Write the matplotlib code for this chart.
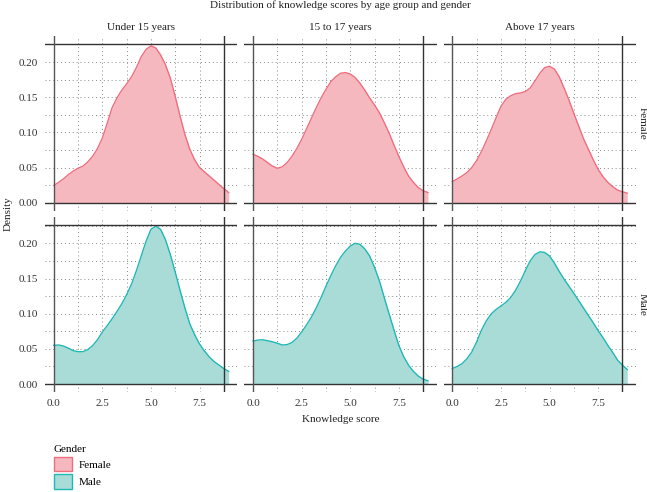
import numpy as np
import matplotlib.pyplot as plt
from matplotlib.patches import Patch
from matplotlib.ticker import MultipleLocator

plt.rcParams['font.family'] = ['Liberation Serif', 'DejaVu Serif']
plt.rcParams['font.size'] = 8

score = np.arange(0, 9.01, 0.25)
age_groups = ['Under 15 years', '15 to 17 years', 'Above 17 years']
genders = ['Female', 'Male']

female_u15 = [0.0245, 0.029, 0.034, 0.040, 0.045, 0.049, 0.052, 0.058, 0.066, 0.077,
              0.092, 0.113, 0.135, 0.149, 0.160, 0.169, 0.179, 0.192, 0.2075, 0.218,
              0.223, 0.220, 0.210, 0.196, 0.177, 0.151, 0.123, 0.097, 0.076, 0.061,
              0.050, 0.044, 0.038, 0.032, 0.026, 0.020, 0.0146]
female_15_17 = [0.0687, 0.066, 0.062, 0.057, 0.052, 0.049, 0.051, 0.057, 0.066, 0.077,
                0.090, 0.105, 0.120, 0.135, 0.149, 0.161, 0.172, 0.179, 0.184, 0.185,
                0.183, 0.178, 0.170, 0.160, 0.149, 0.139, 0.128, 0.114, 0.099, 0.082,
                0.066, 0.051, 0.038, 0.029, 0.0217, 0.017, 0.0146]
female_a17 = [0.030, 0.034, 0.038, 0.043, 0.050, 0.060, 0.073, 0.088, 0.104, 0.121,
              0.137, 0.147, 0.152, 0.155, 0.156, 0.158, 0.163, 0.173, 0.184, 0.192,
              0.194, 0.190, 0.179, 0.163, 0.146, 0.127, 0.109, 0.091, 0.076, 0.061,
              0.0475, 0.037, 0.029, 0.023, 0.018, 0.0155, 0.0136]
male_u15 = [0.055, 0.0555, 0.054, 0.051, 0.0475, 0.046, 0.046, 0.049, 0.0546, 0.063,
            0.074, 0.083, 0.0927, 0.103, 0.114, 0.127, 0.142, 0.161, 0.182, 0.203,
            0.2198, 0.2245, 0.2198, 0.205, 0.184, 0.159, 0.133, 0.108, 0.0856, 0.070,
            0.057, 0.047, 0.0386, 0.032, 0.027, 0.022, 0.018]
male_15_17 = [0.061, 0.0625, 0.063, 0.0615, 0.060, 0.058, 0.0555, 0.056, 0.059, 0.065,
              0.074, 0.084, 0.095, 0.108, 0.123, 0.139, 0.154, 0.168, 0.180, 0.189,
              0.196, 0.200, 0.1986, 0.192, 0.182, 0.166, 0.1468, 0.123, 0.0998, 0.077,
              0.055, 0.039, 0.0268, 0.018, 0.0113, 0.007, 0.0047]
male_a17 = [0.022, 0.025, 0.029, 0.036, 0.0456, 0.060, 0.0767, 0.090, 0.0998, 0.106,
            0.111, 0.116, 0.123, 0.133, 0.146, 0.161, 0.175, 0.184, 0.188, 0.187,
            0.182, 0.172, 0.160, 0.149, 0.139, 0.129, 0.1186, 0.108, 0.0974, 0.087,
            0.076, 0.066, 0.055, 0.045, 0.034, 0.027, 0.0207]

dens = {
    'Female': [female_u15, female_15_17, female_a17],
    'Male': [male_u15, male_15_17, male_a17],
}
fill_col = {'Female': '#F6B8BF', 'Male': '#A9DCD7'}
line_col = {'Female': '#EF6E7E', 'Male': '#20B7B7'}

y_max = 0.2257
x_line = 8.75

fig, axes = plt.subplots(2, 3, figsize=(6.47, 4.92), dpi=100, sharex=True, sharey=True)
fig.subplots_adjust(left=0.0696, right=0.983, top=0.9268, bottom=0.2033,
                    wspace=0.036, hspace=0.038)

for r, g in enumerate(genders):
    for c, age in enumerate(age_groups):
        ax = axes[r, c]
        d = dens[g][c]
        ax.fill_between(score, d, 0, color=fill_col[g], lw=0, zorder=2)
        ax.plot(score, d, color=line_col[g], lw=1.0, zorder=3)
        ax.axhline(0, color='#333333', lw=1.0, zorder=4)
        ax.axhline(y_max, color='#333333', lw=1.0, zorder=4)
        ax.axvline(0, color='#555555', lw=1.0, zorder=4)
        ax.axvline(x_line, color='#333333', lw=1.0, zorder=4)

        ax.set_xlim(-0.45, 9.45)
        ax.set_ylim(-0.05 * y_max, 1.05 * y_max)
        ax.xaxis.set_major_locator(MultipleLocator(2.5))
        ax.xaxis.set_minor_locator(MultipleLocator(1.25))
        ax.yaxis.set_major_locator(MultipleLocator(0.05))
        ax.yaxis.set_minor_locator(MultipleLocator(0.025))
        ax.grid(True, which='both', ls=(0, (1, 3)), color='#888888', lw=0.7, zorder=1)
        ax.tick_params(which='both', length=0, pad=5, labelcolor='#333333', labelsize=8)
        for s in ax.spines.values():
            s.set_visible(False)

        if r == 0:
            ax.set_title(age, fontsize=8, pad=4, color='#222222')

# etykiety wierszy po prawej
for r, g in enumerate(genders):
    bb = axes[r, 2].get_position()
    fig.text(642 / 647, (bb.y0 + bb.y1) / 2, g, rotation=270, ha='center', va='center',
             fontsize=8, color='#222222')

axes[0, 0].yaxis.set_major_formatter(lambda v, p: f'{v:.2f}')
axes[1, 0].xaxis.set_major_formatter(lambda v, p: f'{v:.1f}')

fig.text(0.526, 0.989, 'Distribution of knowledge scores by age group and gender',
         ha='center', va='center', fontsize=8, color='#222222')
fig.text(0.526, 0.148, 'Knowledge score', ha='center', va='center', fontsize=8, color='#222222')
fig.text(0.012, 0.565, 'Density', ha='center', va='center', rotation=90, fontsize=8,
         color='#222222')

handles = [Patch(facecolor=fill_col[g], edgecolor=line_col[g], lw=1.0) for g in genders]
leg = fig.legend(handles, genders, title='Gender', loc='upper left',
                 bbox_to_anchor=(0.068, 0.115), frameon=False, fontsize=8,
                 title_fontsize=8, handlelength=1.6, handleheight=1.6,
                 labelspacing=0.25, handletextpad=0.6, alignment='left')

fig.savefig('out.png', dpi=100)
